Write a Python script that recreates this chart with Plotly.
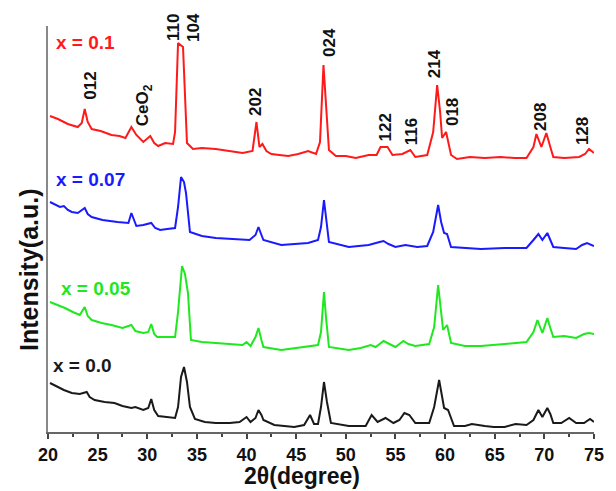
import plotly.graph_objects as go

# ---- data (2theta in degree, intensity in a.u.) ----
red_x = [20.2, 21.0, 22.0, 23.0, 23.4, 23.7, 24.0, 24.4, 25.3, 26.4, 27.2, 27.8, 28.4, 28.9, 29.6,
         30.3, 30.7, 31.1, 31.8, 32.6, 32.8, 33.1, 33.6, 33.8, 34.0, 34.6, 35.5, 36.9, 38.3, 39.6,
         40.6, 41.0, 41.3, 41.6, 42.0, 42.5, 43.3, 44.2, 45.2, 46.2, 47.0, 47.4, 47.75, 48.0, 48.3,
         49.0, 50.0, 51.0, 52.3, 53.1, 53.5, 54.2, 54.7, 55.7, 56.5, 57.0, 58.2, 58.8, 59.2, 59.5,
         59.7, 60.1, 60.6, 61.2, 62.5, 64.0, 65.6, 67.0, 68.2, 68.9, 69.2, 69.7, 70.2, 70.6, 70.9,
         72.0, 73.5, 74.1, 74.5, 75.0]
red_y = [316, 313, 308, 305, 309, 323, 310, 303, 301, 297, 296, 294, 305, 297, 290,
         296, 289, 286, 289, 288, 300, 389, 385, 340, 289, 283, 284, 283, 281, 279,
         281, 310, 285, 288, 281, 278, 277, 276, 278, 281, 278, 290, 367, 330, 282,
         276, 276, 274, 277, 277, 285, 285, 277, 278, 282, 275, 277, 300, 347, 320,
         294, 300, 277, 273, 275, 274, 275, 274, 274, 285, 298, 285, 299, 285, 275,
         274, 275, 278, 283, 279]

blue_x = [20.2, 20.8, 21.2, 21.6, 22.0, 22.4, 23.0, 23.7, 24.0, 24.4, 25.5, 27.0, 28.1, 28.4, 28.7,
          28.9, 29.6, 30.4, 30.8, 31.3, 32.0, 32.8, 33.1, 33.4, 33.7, 33.9, 34.3, 35.5, 36.9, 38.5,
          40.3, 40.9, 41.2, 41.5, 41.7, 43.5, 45.0, 46.2, 47.2, 47.5, 47.8, 48.0, 48.3, 50.3, 52.3,
          53.4, 53.8, 54.3, 55.0, 56.0, 57.2, 58.2, 58.8, 59.3, 59.6, 59.9, 60.2, 60.6, 62.0, 63.6,
          66.0, 68.2, 68.9, 69.4, 69.8, 70.3, 70.6, 70.9, 72.0, 73.2, 73.8, 74.3, 75.0]
blue_y = [230, 227, 225, 226, 222, 220, 219, 224, 218, 215, 212, 210, 209, 219, 210,
          206, 207, 209, 204, 202, 203, 204, 225, 255, 250, 239, 200, 196, 194, 193,
          192, 197, 205, 197, 192, 187, 188, 189, 192, 205, 232, 215, 190, 185, 187,
          190, 191, 188, 185, 187, 185, 186, 200, 227, 210, 199, 198, 185, 184, 183,
          184, 184, 192, 198, 192, 199, 192, 185, 184, 183, 187, 189, 186]

green_x = [20.2, 21.0, 21.7, 22.5, 23.2, 23.7, 24.0, 24.4, 25.4, 26.4, 27.5, 28.4, 28.8, 29.6, 30.1,
           30.4, 30.7, 31.0, 32.0, 32.8, 33.1, 33.5, 33.8, 34.1, 34.4, 35.5, 36.9, 38.5, 39.6, 40.0,
           40.4, 40.9, 41.2, 41.5, 41.7, 43.5, 45.0, 46.2, 47.2, 47.5, 47.8, 48.0, 48.3, 50.3, 51.5,
           52.5, 53.0, 53.8, 54.4, 55.0, 55.8, 56.3, 57.0, 58.4, 58.9, 59.3, 59.6, 59.8, 60.2, 60.6,
           62.0, 63.6, 66.0, 68.2, 68.9, 69.3, 69.8, 70.3, 70.6, 70.9, 72.0, 73.2, 74.0, 74.5, 75.0]
green_y = [130, 127, 124, 120, 117, 125, 116, 112, 109, 107, 104, 107, 101, 99, 100,
           108, 98, 95, 95, 95, 120, 166, 158, 139, 92, 90, 89, 88, 87, 90,
           86, 95, 104, 92, 85, 82, 84, 85, 87, 100, 140, 115, 85, 82, 84,
           87, 85, 91, 88, 85, 91, 88, 86, 88, 105, 147, 120, 102, 107, 89,
           86, 86, 88, 90, 100, 112, 99, 114, 104, 95, 96, 94, 98, 99, 98]

black_x = [20.2, 20.8, 21.6, 22.4, 23.2, 23.9, 24.2, 24.7, 25.7, 26.7, 27.5, 28.4, 28.8, 29.6, 30.1,
           30.4, 30.7, 31.1, 32.0, 32.8, 33.1, 33.4, 33.7, 34.0, 34.3, 34.8, 35.8, 36.9, 38.3, 39.3,
           40.0, 40.4, 40.9, 41.2, 41.5, 41.7, 42.8, 44.0, 44.8, 45.8, 46.4, 46.8, 47.2, 47.5, 47.8,
           48.1, 48.5, 50.3, 52.0, 52.6, 53.2, 54.0, 54.8, 55.4, 55.9, 56.4, 57.0, 58.4, 58.9, 59.4,
           59.7, 59.9, 60.3, 60.9, 62.0, 62.7, 64.0, 64.9, 66.0, 67.1, 68.2, 68.9, 69.4, 69.8, 70.3,
           70.6, 70.9, 71.7, 72.5, 73.2, 74.0, 74.6, 75.0]
black_y = [49, 46, 42, 39, 38, 40, 35, 32, 30, 29, 26, 24, 25, 22, 24,
           33, 22, 16, 15, 14, 25, 55, 65, 50, 25, 13, 10, 9, 9, 10,
           15, 10, 14, 22, 17, 12, 7, 6, 5, 7, 17, 8, 8, 25, 50,
           30, 9, 6, 6, 17, 10, 14, 9, 12, 19, 17, 9, 9, 25, 52,
           35, 24, 22, 6, 6, 8, 6, 5, 5, 8, 7, 12, 22, 15, 24,
           18, 9, 9, 14, 9, 9, 13, 10]

series_names = ["x = 0.1", "x = 0.07", "x = 0.05", "x = 0.0"]
series_colors = ["#ff1a1a", "#1a1aff", "#1ee81e", "#1a1a1a"]
label_x = [20.6, 20.6, 21.1, 20.3]
label_y = [390, 253, 144, 67]

peak_labels = ["012", "CeO<sub>2</sub>", "110", "104", "202", "024", "122", "116", "214", "018", "208", "128"]
peak_x = [24.2, 29.7, 32.6, 34.6, 40.85, 48.3, 53.9, 56.6, 58.9, 60.7, 69.55, 73.8]
peak_y = [346, 327, 404, 405, 330, 390, 304, 300, 368, 320, 315, 301]

x_ticks = [20, 25, 30, 35, 40, 45, 50, 55, 60, 65, 70, 75]

FONT = "Liberation Sans, Arial, sans-serif"

fig = go.Figure()
for xs, ys, name, col in zip([red_x, blue_x, green_x, black_x],
                             [red_y, blue_y, green_y, black_y],
                             series_names, series_colors):
    fig.add_trace(go.Scatter(x=xs, y=ys, mode="lines", name=name,
                             line=dict(color=col, width=2), showlegend=False))

annotations = []
for t, xx, yy, col in zip(series_names, label_x, label_y, series_colors):
    annotations.append(dict(text="<b>%s</b>" % t, x=xx, y=yy, xref="x", yref="y",
                            xanchor="left", yanchor="middle", showarrow=False,
                            font=dict(family=FONT, size=19, color=col)))
for t, xx, yy in zip(peak_labels, peak_x, peak_y):
    annotations.append(dict(text="<b>%s</b>" % t, x=xx, y=yy, xref="x", yref="y",
                            xanchor="center", yanchor="middle", showarrow=False, textangle=-90,
                            font=dict(family=FONT, size=17, color="#111111")))
annotations.append(dict(text="<b>2θ(degree)</b>", x=0.465, y=-0.108, xref="paper", yref="paper",
                        xanchor="center", yanchor="middle", showarrow=False,
                        font=dict(family=FONT, size=23, color="#111111")))
annotations.append(dict(text="<b>Intensity(a.u.)</b>", x=-0.036, y=0.40, xref="paper", yref="paper",
                        xanchor="center", yanchor="middle", showarrow=False, textangle=-90,
                        font=dict(family=FONT, size=25, color="#111111")))

fig.update_layout(
    width=616, height=491,
    margin=dict(l=48, r=15, t=26, b=59),
    paper_bgcolor="white", plot_bgcolor="white",
    annotations=annotations,
    xaxis=dict(range=[20, 75], tickvals=x_ticks, ticktext=[str(v) for v in x_ticks],
               showline=True, linecolor="#666666", linewidth=2, mirror=False,
               ticks="outside", ticklen=5, tickwidth=2, tickcolor="#444444",
               minor=dict(dtick=2.5, tick0=20, ticks="outside", ticklen=3, tickwidth=2, tickcolor="#444444"),
               showgrid=False, zeroline=False,
               tickfont=dict(family=FONT, size=18, color="#111111", weight="bold")),
    yaxis=dict(range=[0, 406], showline=True, linecolor="#888888", linewidth=2,
               showticklabels=False, ticks="", showgrid=False, zeroline=False),
)

fig.write_html("out.html")
